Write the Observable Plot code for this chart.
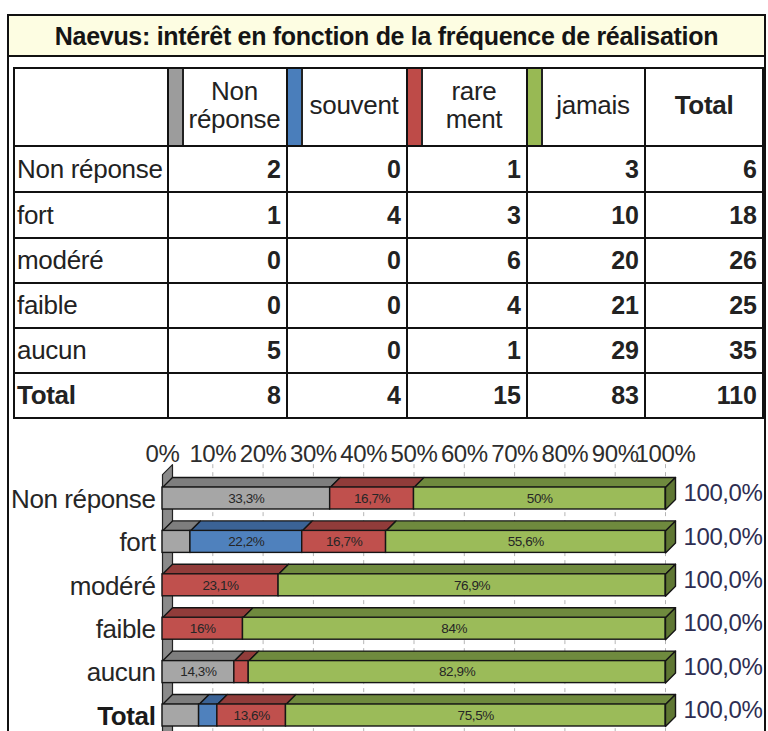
<!DOCTYPE html>
<html><head><meta charset="utf-8">
<script src="https://cdn.jsdelivr.net/npm/d3@7"></script>
<script src="https://cdn.jsdelivr.net/npm/@observablehq/plot@0.6"></script>
<style>
html,body{margin:0;padding:0;background:#fff;}
body{width:768px;height:731px;overflow:hidden;font-family:"Liberation Sans",Arial,sans-serif;position:relative;}
#frame{position:absolute;left:7px;top:14px;width:755px;border:2px solid #111;border-bottom:none;}
#title{height:39px;background:#fdfde2;border-bottom:2px solid #111;text-align:center;font-weight:bold;font-size:25px;letter-spacing:-0.3px;line-height:41px;color:#151515;white-space:nowrap;}
table{border-collapse:collapse;margin:10px 0 0 4px;table-layout:fixed;width:749px;}
td,th{border:2px solid #111;padding:0;font-size:26px;letter-spacing:-0.3px;color:#222;font-weight:normal;white-space:nowrap;overflow:hidden;}
th{text-align:center;line-height:28px;padding-bottom:4px;}
td.lab{text-align:left;padding-left:2px;}
td.num{text-align:right;padding-right:5px;font-weight:bold;font-size:25px;letter-spacing:0;}
.bold{font-weight:bold !important;}
#chart svg{display:block;margin-top:2px;}
#chart svg text{letter-spacing:-0.4px;}
</style></head>
<body>
<div id="frame">
  <div id="title"></div>
  <table id="tbl"></table>
  <div id="chart"></div>
</div>
<script>
// ---- data ----
const titleText = "Naevus:  intérêt en fonction de la fréquence de réalisation";
const cats = ["Non réponse", "fort", "modéré", "faible", "aucun", "Total"];
const seriesNames = ["Non réponse", "souvent", "rarement", "jamais"];
const headerLabels = [["Non", "réponse"], ["souvent"], ["rare", "ment"], ["jamais"]];
const nonReponse = [2, 1, 0, 0, 5, 8];
const souvent = [0, 4, 0, 0, 0, 4];
const rarement = [1, 3, 6, 4, 1, 15];
const jamais = [3, 10, 20, 21, 29, 83];
const totals = [6, 18, 26, 25, 35, 110];
const xTicks = [0, 10, 20, 30, 40, 50, 60, 70, 80, 90, 100];
const labelMin = 10; // smallest share that gets an inner label

// ---- styles ----
const frontColors = ["#a6a6a6", "#4f81bd", "#c0504d", "#9bbb59"];
const topColors = ["#7e7e7e", "#3b6396", "#913c3a", "#6f8a3e"];
const stripeColors = ["#9c9c9c", "#4a7ebb", "#be4b48", "#98b954"];
const endColor = "#5f7733";
const wallColor = "#8a8a8a";

document.getElementById("title").textContent = titleText;

// ---- table ----
const counts = [nonReponse, souvent, rarement, jamais];
const tbl = d3.select("#tbl");
const cg = tbl.append("colgroup");
[154, 119, 120, 120, 118, 118].forEach(w => cg.append("col").style("width", w + "px"));
const hr = tbl.append("tr").style("height", "78px");
hr.append("th");
headerLabels.forEach((lines, k) => {
  const th = hr.append("th")
    .style("box-shadow", `inset 13px 0 0 ${stripeColors[k]}, inset 15px 0 0 #222`)
    .style("padding-left", "14px");
  th.html(lines.join("<br>"));
});
hr.append("th").attr("class", "bold").text("Total");
cats.forEach((c, i) => {
  const tr = tbl.append("tr").style("height", i < 2 ? "46px" : "45px");
  tr.append("td").attr("class", "lab" + (c === "Total" ? " bold" : "")).text(c);
  counts.forEach(s => tr.append("td").attr("class", "num").text(s[i]));
  tr.append("td").attr("class", "num").text(totals[i]);
});

// ---- chart ----
const fmt = v => {
  const r = Math.round(v * 10) / 10;
  return (Number.isInteger(r) ? String(r) : r.toFixed(1).replace(".", ",")) + "%";
};
const W = 755, H = 312, ML = 153, MR = 99;
const yRange = [77, 294];
const depthPx = 10, halfPx = 11;
const dX = depthPx * 100 / (W - ML - MR);
const dY = depthPx * (cats.length - 1) / (yRange[1] - yRange[0]);
const hb = halfPx * (cats.length - 1) / (yRange[1] - yRange[0]);

const segs = [];
cats.forEach((c, i) => {
  const tot = d3.sum(counts, s => s[i]);
  let acc = 0;
  counts.forEach((s, k) => {
    const v = s[i] / tot * 100;
    if (v > 0) segs.push({row: i, k, x1: acc, x2: acc + v, share: v});
    acc += v;
  });
});

const polys = [];
segs.forEach((s, j) => {
  const yt = s.row - hb;
  [[s.x1, yt], [s.x2, yt], [s.x2 + dX, yt - dY], [s.x1 + dX, yt - dY]]
    .forEach(([x, y]) => polys.push({id: "t" + j, x, y, fill: topColors[s.k]}));
});
cats.forEach((c, i) => {
  [[100, i - hb], [100, i + hb], [100 + dX, i + hb - dY], [100 + dX, i - hb - dY]]
    .forEach(([x, y]) => polys.push({id: "e" + i, x, y, fill: endColor}));
});
const wallTop = -0.55, wallBottom = cats.length;
const wall = [[0, wallTop], [dX, wallTop - dY], [dX, wallBottom - dY], [0, wallBottom]]
  .map(([x, y]) => ({x, y}));

const rows = cats.map((c, i) => ({c, i, total: d3.sum(segs.filter(s => s.row === i), s => s.share)}));

const chart = Plot.plot({
  width: W, height: H,
  marginLeft: ML, marginRight: MR, marginTop: 45, marginBottom: 0,
  style: {fontFamily: "'Liberation Sans', Arial, sans-serif", color: "#2d2d2d", background: "#fff"},
  x: {domain: [0, 100]},
  y: {domain: [0, cats.length - 1], range: yRange, axis: null},
  color: {type: "identity"},
  marks: [
    Plot.line(wall, {x: "x", y: "y", fill: wallColor, stroke: "#222", strokeWidth: 1.2, curve: "linear-closed"}),
    Plot.ruleX(xTicks.slice(1), {x: d => d, y1: wallTop - dY, y2: wallBottom, stroke: "#b5b5b5", strokeDasharray: "4,4"}),
    Plot.line(polys, {x: "x", y: "y", z: "id", fill: "fill", stroke: "#151515", strokeWidth: 1.4, curve: "linear-closed"}),
    Plot.rect(segs, {x1: "x1", x2: "x2", y1: d => d.row - hb, y2: d => d.row + hb, fill: d => frontColors[d.k], stroke: "#151515", strokeWidth: 1.4}),
    Plot.text(segs.filter(s => s.share >= labelMin), {x: d => (d.x1 + d.x2) / 2, y: "row", text: d => fmt(d.share), fontSize: 13.5, fill: "#262626"}),
    Plot.text(rows, {x: 100, y: "i", dx: 18, dy: -5, textAnchor: "start", text: d => d.total.toFixed(1).replace(".", ",") + "%", fontSize: 24, fill: "#2e2e52"}),
    Plot.text(rows.filter(d => d.c !== "Total"), {x: 0, y: "i", dx: -7, dy: 1, textAnchor: "end", text: "c", fontSize: 26, fill: "#262626"}),
    Plot.text(rows.filter(d => d.c === "Total"), {x: 0, y: "i", dx: -7, dy: 1, textAnchor: "end", text: "c", fontSize: 26, fontWeight: "bold", fill: "#1a1a1a"}),
    Plot.axisX(xTicks, {anchor: "top", tickSize: 0, tickPadding: 5, tickFormat: d => d + "%", fontSize: 24, label: null})
  ]
});
document.getElementById("chart").appendChild(chart);
</script>
</body></html>
